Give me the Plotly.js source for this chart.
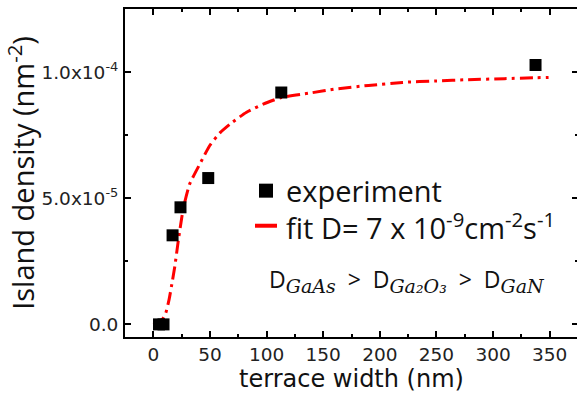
<!DOCTYPE html>
<html>
<head>
<meta charset="utf-8">
<script src="https://cdn.plot.ly/plotly-3.0.1.min.js"></script>
<style>
html,body{margin:0;padding:0;overflow:hidden;background:#fff;}
#chart{width:578px;height:399px;}
</style>
</head>
<body>
<div id="chart"></div>
<script>
// experimental points
const expX = [5, 9, 17, 24, 48.5, 113, 337.5];
const expY = [0, 0, 3.53e-5, 4.64e-5, 5.8e-5, 9.19e-5, 1.028e-4];

// fitted curve
const fitX = [0, 4, 8, 11, 14, 16, 19, 22, 26.5, 32, 41, 50, 59, 68, 82, 97, 113, 140, 161, 190, 220, 250, 278, 310, 349];
const fitY = [0, 0.08e-5, 0.2e-5, 0.45e-5, 1.0e-5, 1.5e-5, 2.3e-5, 3.3e-5, 4.6e-5, 5.55e-5, 6.35e-5, 7.1e-5, 7.6e-5, 7.95e-5, 8.4e-5, 8.73e-5, 8.99e-5, 9.18e-5, 9.33e-5, 9.47e-5, 9.59e-5, 9.65e-5, 9.70e-5, 9.74e-5, 9.79e-5];

// tick labels
const xTickVals = [0, 50, 100, 150, 200, 250, 300, 350];
const yTickVals = [0, 5e-5, 1e-4];
const yTickText = ["0.0", "5.0x10<sup>-5</sup>", "1.0x10<sup>-4</sup>"];

const legendTexts = ["experiment", "fit D= 7 x 10<sup>-9</sup>cm<sup>-2</sup>s<sup>-1</sup>"];
const subNames = ["GaAs", "Ga₂O₃", "GaN"];

const traces = [
  {
    x: fitX, y: fitY, type: 'scatter', mode: 'lines', name: 'fit',
    line: {color: '#ff0000', width: 3, dash: '13px,5px,3px,5px', shape: 'spline', smoothing: 0.5},
    showlegend: false, hoverinfo: 'skip'
  },
  {
    x: expX, y: expY, type: 'scatter', mode: 'markers', name: 'experiment',
    marker: {symbol: 'square', size: 12, color: '#000'},
    showlegend: false
  }
];

const tickFont = {family: 'DejaVu Sans, sans-serif', size: 18.5, color: '#222'};

function sub(s) {
  return '<sub><i><span style="font-family:DejaVu Serif;font-size:19px">' + s + '</span></i></sub>';
}
const gap = '&nbsp;&nbsp;';
const relText = 'D' + sub(subNames[0]) + gap + '>' + gap + 'D' + sub(subNames[1]) + gap + '>' + gap + 'D' + sub(subNames[2]);

const layout = {
  width: 578, height: 399,
  margin: {l: 125, r: 0, t: 9, b: 62},
  paper_bgcolor: '#fff', plot_bgcolor: '#fff',
  showlegend: false,
  xaxis: {
    range: [-25, 375],
    tickmode: 'array', tickvals: xTickVals,
    ticks: 'inside', ticklen: 6, tickwidth: 2, tickcolor: '#000',
    showline: true, linewidth: 2, linecolor: '#000', mirror: 'ticks',
    showgrid: false, zeroline: false,
    tickfont: tickFont,
    ticklabelstandoff: 0,
    minor: {tickmode: 'linear', tick0: 25, dtick: 50, ticks: 'inside', ticklen: 3, tickwidth: 2, tickcolor: '#000', showgrid: false},
    title: {text: 'terrace width (nm)', font: {family: 'DejaVu Sans, sans-serif', size: 24, color: '#111'}, standoff: 6}
  },
  yaxis: {
    range: [-5e-6, 1.25e-4],
    tickmode: 'array', tickvals: yTickVals, ticktext: yTickText,
    ticks: 'inside', ticklen: 6, tickwidth: 2, tickcolor: '#000',
    showline: true, linewidth: 2, linecolor: '#000', mirror: 'ticks',
    showgrid: false, zeroline: false,
    tickfont: tickFont,
    ticklabelstandoff: 1,
    minor: {tickmode: 'array', tickvals: [2.5e-5, 7.5e-5], ticks: 'inside', ticklen: 3, tickwidth: 2, tickcolor: '#000', showgrid: false},
    title: {text: 'Island density (nm<sup>-2</sup>)', font: {family: 'Open Sans, sans-serif', size: 29, color: '#111'}, standoff: 10}
  },
  shapes: [
    {type: 'rect', xref: 'x', yref: 'y', xsizemode: 'pixel', ysizemode: 'pixel',
     xanchor: 99.5, yanchor: 5.3e-5, x0: -7, x1: 7, y0: -7, y1: 7,
     fillcolor: '#000', line: {width: 0}},
    {type: 'line', xref: 'x', yref: 'y', xsizemode: 'pixel', ysizemode: 'pixel',
     xanchor: 99.5, yanchor: 3.91e-5, x0: -11, x1: 11, y0: 0, y1: 0,
     line: {color: '#ff0000', width: 4}}
  ],
  annotations: [
    {xref: 'x', yref: 'y', x: 115.5, y: 5.3e-5, xanchor: 'left', yanchor: 'middle', showarrow: false,
     text: legendTexts[0], font: {family: 'Open Sans, sans-serif', size: 29, color: '#111'}},
    {xref: 'x', yref: 'y', x: 115.5, y: 3.91e-5, xanchor: 'left', yanchor: 'middle', showarrow: false,
     text: legendTexts[1], font: {family: 'Open Sans, sans-serif', size: 29, color: '#111'}},
    {xref: 'x', yref: 'y', x: 100.5, y: 1.75e-5, xanchor: 'left', yanchor: 'middle', showarrow: false,
     text: relText,
     font: {family: 'Open Sans, sans-serif', size: 23, color: '#111'}}
  ]
};

Plotly.newPlot('chart', traces, layout, {displayModeBar: false, staticPlot: true});
</script>
</body>
</html>
